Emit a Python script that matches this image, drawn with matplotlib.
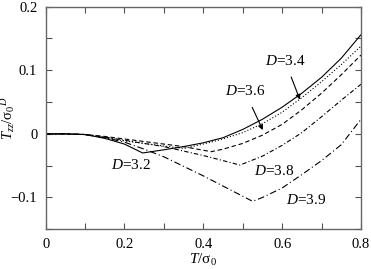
import matplotlib
matplotlib.use("Agg")
import matplotlib.pyplot as plt
from matplotlib.ticker import MultipleLocator, FixedLocator

plt.rcParams['font.family'] = ['Liberation Serif', 'DejaVu Serif']
plt.rcParams['mathtext.fontset'] = 'custom'
plt.rcParams['mathtext.rm'] = 'Liberation Serif'
plt.rcParams['mathtext.it'] = 'Liberation Serif:italic'

# D = 3.2 (solid)
T_32 = [0, 0.05, 0.1, 0.15, 0.2, 0.246, 0.3, 0.35, 0.4, 0.45, 0.5, 0.55, 0.6, 0.65, 0.7, 0.75, 0.8]
v_32 = [0, 0, -0.001, -0.007, -0.016, -0.030, -0.025, -0.020, -0.014, -0.006, 0.007, 0.023, 0.042, 0.064, 0.089, 0.119, 0.156]
# D = 3.4 (dotted)
T_34 = [0, 0.05, 0.1, 0.15, 0.2, 0.25, 0.3, 0.35, 0.4, 0.45, 0.5, 0.55, 0.6, 0.65, 0.7, 0.75, 0.8]
v_34 = [0, 0, -0.001, -0.006, -0.011, -0.015, -0.019, -0.023, -0.016, -0.008, 0.002, 0.016, 0.034, 0.057, 0.082, 0.109, 0.138]
# D = 3.6 (dashed)
T_36 = [0, 0.05, 0.1, 0.15, 0.2, 0.25, 0.3, 0.35, 0.42, 0.45, 0.5, 0.55, 0.6, 0.65, 0.7, 0.75, 0.8]
v_36 = [0, 0, -0.001, -0.004, -0.008, -0.012, -0.016, -0.020, -0.028, -0.024, -0.015, -0.002, 0.015, 0.038, 0.064, 0.093, 0.124]
# D = 3.8 (dash-dot)
T_38 = [0, 0.05, 0.1, 0.15, 0.2, 0.25, 0.3, 0.35, 0.4, 0.45, 0.493, 0.55, 0.6, 0.65, 0.7, 0.75, 0.8]
v_38 = [0, 0, -0.001, -0.005, -0.010, -0.015, -0.020, -0.027, -0.034, -0.042, -0.049, -0.035, -0.018, 0.002, 0.027, 0.053, 0.078]
# D = 3.9 (long dash-dot)
T_39 = [0, 0.05, 0.1, 0.15, 0.2, 0.25, 0.3, 0.35, 0.4, 0.45, 0.5, 0.525, 0.55, 0.6, 0.65, 0.7, 0.75, 0.8]
v_39 = [0, 0, -0.001, -0.006, -0.013, -0.024, -0.036, -0.051, -0.066, -0.082, -0.098, -0.106, -0.100, -0.085, -0.064, -0.042, -0.017, 0.023]

x_ticks = [0, 0.2, 0.4, 0.6, 0.8]
x_labels = ['0', '0.2', '0.4', '0.6', '0.8']
y_ticks = [-0.1, 0, 0.1, 0.2]
y_labels = ['\u22120.1', '0', '0.1', '0.2']

fig = plt.figure(figsize=(3.71, 2.69), dpi=100)
ax = fig.add_axes([0.123, 0.1476, 0.850, 0.8275])

lw = 0.8
ax.plot(T_32, v_32, color='black', lw=lw, linestyle='-')
ax.plot(T_34, v_34, color='black', lw=lw, linestyle=(0, (1, 1.8)))
ax.plot(T_36, v_36, color='black', lw=lw, linestyle=(0, (4, 2.5)))
ax.plot(T_38, v_38, color='black', lw=lw, linestyle=(0, (4, 2, 1, 2)))
ax.plot(T_39, v_39, color='black', lw=lw, linestyle=(0, (6, 2.5, 1, 2.5)))

ax.set_xlim(0, 0.8)
ax.set_ylim(-0.15, 0.2)
ax.xaxis.set_major_locator(FixedLocator(x_ticks))
ax.set_xticklabels(x_labels)
ax.yaxis.set_major_locator(FixedLocator(y_ticks))
ax.set_yticklabels(y_labels)
ax.xaxis.set_minor_locator(MultipleLocator(0.1))
ax.yaxis.set_minor_locator(MultipleLocator(0.05))
ax.tick_params(which='both', direction='in', top=True, right=True, length=4,
               width=0.8, color='#555555', labelsize=10.5, pad=6)
for s in ax.spines.values():
    s.set_color('#666666')
    s.set_linewidth(1.0)

ax.set_xlabel(r'$T/\mathrm{σ}_0$', fontsize=11, labelpad=1)
ax.set_ylabel(r'$T_{zz}/\mathrm{σ}_0{}^D$', fontsize=10.5)
ax.yaxis.set_label_coords(-0.092, 0.5)

fs = 11
ax.text(0.216, -0.049, r'$D$=3.2', fontsize=fs, ha='center', va='center')
ax.text(0.581, -0.058, r'$D$=3.8', fontsize=fs, ha='center', va='center')
ax.text(0.660, -0.104, r'$D$=3.9', fontsize=fs, ha='center', va='center')
ax.annotate(r'$D$=3.4', xy=(0.645, 0.054), xytext=(0.607, 0.115), fontsize=fs,
            ha='center', va='center',
            arrowprops=dict(arrowstyle='-|>', color='black', lw=0.8,
                            mutation_scale=7, shrinkA=5, shrinkB=0))
ax.annotate(r'$D$=3.6', xy=(0.551, 0.006), xytext=(0.505, 0.067), fontsize=fs,
            ha='center', va='center',
            arrowprops=dict(arrowstyle='-|>', color='black', lw=0.8,
                            mutation_scale=7, shrinkA=5, shrinkB=0))

fig.savefig('out.png', dpi=100)
